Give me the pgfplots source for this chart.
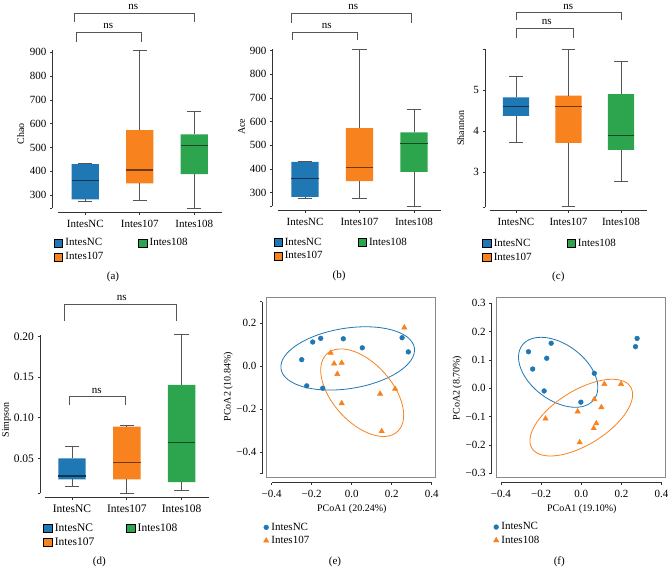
\documentclass[border=0pt]{standalone}
\usepackage{fontspec}
\setmainfont{Liberation Serif}
\usepackage{pgfplots}
\pgfplotsset{compat=1.18}
\definecolor{cblue}{HTML}{1F77B4}
\definecolor{corange}{HTML}{F7821E}
\definecolor{cgreen}{HTML}{2DA44E}
\definecolor{wgray}{HTML}{555555}
\definecolor{agray}{HTML}{333333}
\definecolor{fgray}{HTML}{8A8A8A}
\newcommand{\fs}{\fontsize{11}{13}\selectfont}

\pgfplotsset{
  common/.style={
    scale only axis, clip=false,
    axis x line*=bottom, axis y line*=left,
    axis line style={draw=none},
    tick align=outside, major tick length=2.5pt,
    tick style={agray, line width=0.7pt},
    /pgf/number format/assume math mode=true,
    tick label style={font=\fs},
    label style={font=\fs},
    extra y tick labels={},
    legend cell align=left,
  },
  boxax/.style={
    common,
    xmax=2.5,
    xtick={0,1,2}, xticklabels={IntesNC,Intes107,Intes108},
    xticklabel style={yshift=-1.5pt},
    legend columns=2,
    legend style={draw=none, fill=none, inner sep=0pt, anchor=north west,
      font=\fs, row sep=3pt,
      nodes={inner sep=1pt},
      /tikz/every odd column/.append style={column sep=1.6pt},
      /tikz/every even column/.append style={column sep=34pt}},
    legend image code/.code={\fill[##1] (0pt,-4pt) rectangle (8.3pt,4pt);},
  },
  scatax/.style={
    common,
    xmax=0.4,
    xtick={-0.4,-0.2,0,0.2,0.4}, xticklabels={−0.4,−0.2,0.0,0.2,0.4},
    xticklabel style={yshift=-1pt},
    legend style={draw=none, fill=none, inner sep=0pt, anchor=north west,
      font=\fs, row sep=2.5pt,
      nodes={inner sep=1pt},
      /tikz/every odd column/.append style={column sep=1.5pt}},
    legend image code/.code={\draw[##1] plot coordinates {(0pt,0pt)};},
  },
  ptnc/.style={only marks, mark=*, mark size=2.4pt, color=cblue},
  ptor/.style={only marks, mark=triangle*, mark size=3.1pt, color=corange},
}

% one box: #1 position, #2 lower whisker, #3 lower quartile, #4 median,
% #5 upper quartile, #6 upper whisker, #7 colour
\newcommand{\bx}[7]{%
  \pgfmathsetmacro{\bL}{#1-0.25}\pgfmathsetmacro{\bR}{#1+0.25}%
  \pgfmathsetmacro{\cL}{#1-0.13}\pgfmathsetmacro{\cR}{#1+0.13}%
  \addplot[forget plot, draw=none, fill=#7] coordinates {(\bL,#3) (\bR,#3) (\bR,#5) (\bL,#5) (\bL,#3)};
  \addplot[forget plot, wgray, line width=0.8pt, unbounded coords=jump] coordinates {(#1,#5) (#1,#6) (nan,nan) (\cL,#6) (\cR,#6) (nan,nan) (#1,#3) (#1,#2) (nan,nan) (\cL,#2) (\cR,#2)};
  \addplot[forget plot, #7!45!black, line width=1.1pt] coordinates {(\bL,#4) (\bR,#4)};
}
\newcommand{\boxlegend}{%
  \addlegendimage{fill=cblue}\addlegendentry{IntesNC}
  \addlegendimage{fill=cgreen}\addlegendentry{Intes108}
  \addlegendimage{fill=corange}\addlegendentry{Intes107}}

\begin{document}
\begin{tikzpicture}
\path[use as bounding box] (0,0) rectangle (668pt,568pt);

% ---------- (a) Chao ----------
\begin{axis}[boxax,
  at={(52.3pt,355.3pt)}, anchor=south west, width=169.25pt, height=162.3pt,
  xmin=-0.6055, ymin=225.5, ymax=908,
  ytick={300,400,500,600,700,800,900}, extra y ticks={244},
  ylabel={Chao},
  every axis y label/.style={at={(axis description cs:-0.1867,0.485)}, rotate=90, anchor=center},
  legend style={at={(axis description cs:0.010,-0.152)}}]
\draw[agray, line width=0.7pt] (axis cs:-0.6055,244) -- (axis cs:-0.6055,908);
\draw[agray, line width=0.7pt] (axis cs:-0.5,225.5) -- (axis cs:2.5,225.5);
\bx{0}{275}{282}{360}{430}{433}{cblue}
\bx{1}{276}{349}{405}{573}{907}{corange}
\bx{2}{244}{388}{507}{555}{652}{cgreen}
\boxlegend
\end{axis}

% ---------- (b) Ace ----------
\begin{axis}[boxax,
  at={(272.3pt,357.3pt)}, anchor=south west, width=168.95pt, height=161.9pt,
  xmin=-0.6, ymin=224.1, ymax=908,
  ytick={300,400,500,600,700,800,900}, extra y ticks={244},
  ylabel={Ace},
  every axis y label/.style={at={(axis description cs:-0.181,0.519)}, rotate=90, anchor=center},
  legend style={at={(axis description cs:0.006,-0.16)}}]
\draw[agray, line width=0.7pt] (axis cs:-0.6,244) -- (axis cs:-0.6,908);
\draw[agray, line width=0.7pt] (axis cs:-0.5,224.1) -- (axis cs:2.5,224.1);
\bx{0}{275}{282}{360}{430}{433}{cblue}
\bx{1}{276}{349}{405}{573}{907}{corange}
\bx{2}{244}{388}{507}{555}{652}{cgreen}
\boxlegend
\end{axis}

% ---------- (c) Shannon ----------
\begin{axis}[boxax,
  at={(485pt,357.3pt)}, anchor=south west, width=162.2pt, height=161.7pt,
  xmin=-0.59, ymin=2.057, ymax=6.0,
  ytick={3,4,5}, extra y ticks={2.14,6.0},
  ylabel={Shannon},
  every axis y label/.style={at={(axis description cs:-0.15,0.511)}, rotate=90, anchor=center},
  legend style={at={(axis description cs:-0.017,-0.167)}}]
\draw[agray, line width=0.7pt] (axis cs:-0.59,2.14) -- (axis cs:-0.59,6.0);
\draw[agray, line width=0.7pt] (axis cs:-0.5,2.057) -- (axis cs:2.5,2.057);
\bx{0}{3.72}{4.37}{4.59}{4.82}{5.34}{cblue}
\bx{1}{2.15}{3.71}{4.59}{4.86}{6.0}{corange}
\bx{2}{2.77}{3.54}{3.90}{4.90}{5.69}{cgreen}
\boxlegend
\end{axis}

% ---------- (d) Simpson ----------
\begin{axis}[boxax,
  at={(40pt,70.7pt)}, anchor=south west, width=169pt, height=162.8pt,
  xmin=-0.584, ymin=0.00197, ymax=0.2025,
  ytick={0.05,0.10,0.15,0.20}, yticklabels={0.05,0.10,0.15,0.20},
  extra y ticks={0.0069},
  ylabel={Simpson},
  tick label style={font=\fontsize{11.5}{13}\selectfont},
  label style={font=\fontsize{11.5}{13}\selectfont},
  every axis y label/.style={at={(axis description cs:-0.197,0.475)}, rotate=90, anchor=center},
  legend style={at={(axis description cs:0.0195,-0.154)}, font=\fontsize{11.5}{13}\selectfont,
    /tikz/every even column/.append style={column sep=31pt}}]
\draw[agray, line width=0.7pt] (axis cs:-0.584,0.0069) -- (axis cs:-0.584,0.2025);
\draw[agray, line width=0.7pt] (axis cs:-0.5,0.00197) -- (axis cs:2.5,0.00197);
\bx{0}{0.0158}{0.0241}{0.0282}{0.050}{0.0651}{cblue}
\bx{1}{0.0069}{0.0241}{0.0451}{0.0889}{0.0901}{corange}
\bx{2}{0.0108}{0.0207}{0.070}{0.1405}{0.2025}{cgreen}
\boxlegend
\end{axis}

% ---------- (e) PCoA ----------
\begin{axis}[scatax,
  at={(262.3pt,85.3pt)}, anchor=south west, width=169.4pt, height=180.9pt,
  xmin=-0.447, ymin=-0.5414, ymax=0.3,
  ytick={-0.4,-0.2,0,0.2}, yticklabels={−0.4,−0.2,0.0,0.2},
  extra y ticks={-0.5,0.3},
  xlabel={PCoA1 (20.24\%)}, ylabel={PCoA2 (10.84\%)},
  every axis x label/.style={at={(axis description cs:0.528,-0.147)}, anchor=center},
  every axis y label/.style={at={(axis description cs:-0.2007,0.531)}, rotate=90, anchor=center},
  legend style={at={(axis description cs:0.006,-0.216)}}]
\draw[agray, line width=0.7pt] (axis cs:-0.447,-0.5) -- (axis cs:-0.447,0.3);
\draw[agray, line width=0.7pt] (axis cs:-0.4,-0.5414) -- (axis cs:0.4,-0.5414);
\draw[fgray, line width=0.7pt] (axis cs:-0.425,-0.517) rectangle (axis cs:0.42,0.321);
\draw[cblue, line width=0.8pt, rotate around={9:(axis cs:-0.02,0.0367)}] (axis cs:-0.02,0.0367) ellipse [x radius=67.5pt, y radius=30.2pt];
\draw[corange, line width=0.8pt, rotate around={-48:(axis cs:0.0525,-0.1227)}] (axis cs:0.0525,-0.1227) ellipse [x radius=52.5pt, y radius=29.7pt];
\addplot[ptnc] coordinates {(-0.25,0.031) (-0.195,0.113) (-0.155,0.130) (-0.042,0.128) (0.053,0.086) (0.252,0.133) (0.283,0.067) (-0.225,-0.091) (-0.145,-0.102)};
\addlegendentry{IntesNC}
\addplot[ptor] coordinates {(-0.105,0.0625) (-0.088,0.0125) (-0.05,0.016) (-0.072,-0.036) (-0.05,-0.172) (0.142,-0.128) (0.217,-0.105) (0.15,-0.302) (0.263,0.18)};
\addlegendentry{Intes107}
\end{axis}

% ---------- (f) PCoA ----------
\begin{axis}[scatax,
  at={(491.7pt,85.3pt)}, anchor=south west, width=169.9pt, height=179.4pt,
  xmin=-0.446, ymin=-0.3332, ymax=0.3,
  ytick={-0.3,-0.2,-0.1,0,0.1,0.2,0.3},
  yticklabels={−0.3,−0.2,−0.1,0.0,0.1,0.2,0.3},
  xlabel={PCoA1 (19.10\%)}, ylabel={PCoA2 (8.70\%)},
  every axis x label/.style={at={(axis description cs:0.53,-0.148)}, anchor=center},
  every axis y label/.style={at={(axis description cs:-0.2025,0.528)}, rotate=90, anchor=center},
  legend style={at={(axis description cs:0.0094,-0.216)}}]
\draw[agray, line width=0.7pt] (axis cs:-0.446,-0.3) -- (axis cs:-0.446,0.3);
\draw[agray, line width=0.7pt] (axis cs:-0.4,-0.3332) -- (axis cs:0.4,-0.3332);
\draw[fgray, line width=0.7pt] (axis cs:-0.422,-0.314) rectangle (axis cs:0.418,0.32);
\draw[cblue, line width=0.8pt, rotate around={-36.9:(axis cs:-0.115,0.0565)}] (axis cs:-0.115,0.0565) ellipse [x radius=45pt, y radius=27.8pt];
\draw[corange, line width=0.8pt, rotate around={31.9:(axis cs:0.0,-0.1035)}] (axis cs:0.0,-0.1035) ellipse [x radius=58.1pt, y radius=27.1pt];
\addplot[ptnc] coordinates {(-0.263,0.129) (-0.242,0.068) (-0.15,0.159) (-0.172,0.106) (-0.185,-0.0094) (0.065,0.053) (-0.002,-0.049) (0.27,0.147) (0.278,0.176)};
\addlegendentry{IntesNC}
\addplot[ptor] coordinates {(-0.178,-0.107) (-0.018,-0.082) (-0.008,-0.191) (0.065,-0.039) (0.1,-0.067) (0.075,-0.124) (0.062,-0.141) (0.115,0.015) (0.198,0.015)};
\addlegendentry{Intes108}
\end{axis}

% ---------- significance brackets and panel labels ----------
\begin{scope}[wgray, line width=0.8pt, font=\fs]
\draw (76pt,526pt) -- (76pt,535.7pt) -- (141.7pt,535.7pt) -- (141.7pt,526pt);
\node[black, anchor=base] at (108.3pt,539.7pt) {ns};
\draw (74pt,546pt) -- (74pt,554.5pt) -- (194.3pt,554.5pt) -- (194.3pt,546pt);
\node[black, anchor=base, inner sep=0pt] at (133.3pt,558pt) {ns};
\draw (292.3pt,528pt) -- (292.3pt,535.7pt) -- (357.7pt,535.7pt) -- (357.7pt,528pt);
\node[black, anchor=base] at (326.7pt,539.7pt) {ns};
\draw (291pt,545.3pt) -- (291pt,554.7pt) -- (411.7pt,554.7pt) -- (411.7pt,545.3pt);
\node[black, anchor=base, inner sep=0pt] at (353.3pt,558.3pt) {ns};
\draw (516pt,547.5pt) -- (516pt,555.5pt) -- (621pt,555.5pt) -- (621pt,547.5pt);
\node[black, anchor=base, inner sep=0pt] at (568.3pt,558.5pt) {ns};
\draw (516pt,530.3pt) -- (516pt,539.7pt) -- (573.3pt,539.7pt) -- (573.3pt,530.3pt);
\node[black, anchor=base] at (546.7pt,543pt) {ns};
\draw (64.3pt,247.3pt) -- (64.3pt,263.7pt) -- (176.7pt,263.7pt) -- (176.7pt,247.3pt);
\node[black, anchor=base] at (121.7pt,267.3pt) {ns};
\draw (69.3pt,163pt) -- (69.3pt,171.3pt) -- (125pt,171.3pt) -- (125pt,163pt);
\node[black, anchor=base] at (96.7pt,174.7pt) {ns};
\node[black] at (113pt,291.3pt) {(a)};
\node[black] at (339pt,292pt) {(b)};
\node[black] at (558.3pt,291.3pt) {(c)};
\node[black] at (99.3pt,6pt) {(d)};
\node[black] at (335pt,6pt) {(e)};
\node[black] at (559.3pt,6pt) {(f)};
\end{scope}
\end{tikzpicture}
\end{document}
